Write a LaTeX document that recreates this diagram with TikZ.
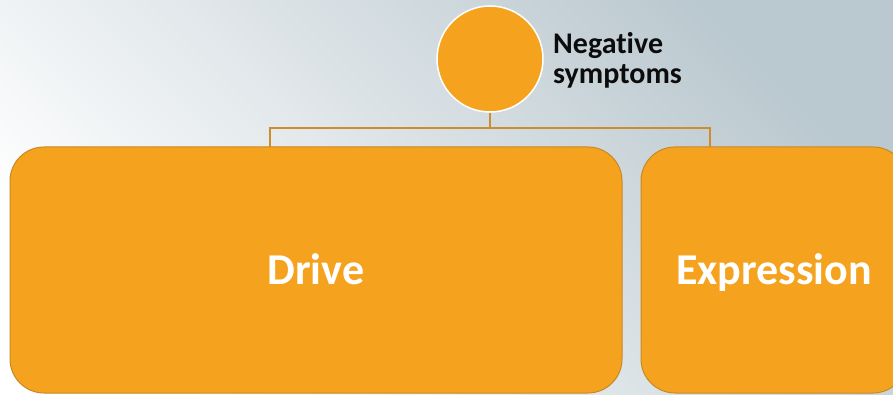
\documentclass[tikz,border=0pt]{standalone}
\usepackage{fontspec}
\setmainfont{Carlito}[RawFeature={-liga;-clig;-calt}]
\usetikzlibrary{positioning}
\definecolor{boxorange}{RGB}{245,163,30}
\definecolor{boxedge}{RGB}{200,137,35}
\definecolor{linkbrown}{RGB}{205,140,45}
\definecolor{bgdark}{RGB}{186,200,207}
\definecolor{txtdark}{RGB}{12,12,12}
\tikzset{
    hub/.style={
        circle,
        draw=white,
        line width=1.5pt,
        fill=boxorange,
        minimum size=106pt,
        inner sep=0pt
    },
    card/.style={
        rectangle,
        draw=boxedge,
        line width=1pt,
        fill=boxorange,
        rounded corners=34pt,
        minimum height=246pt,
        inner sep=0pt,
        text=white,
        text height=28pt,
        text depth=0pt,
        font=\bfseries\fontsize{44}{44}\selectfont
    },
    caption/.style={
        align=left,
        inner sep=0pt,
        text=txtdark,
        font=\bfseries\fontsize{30}{30}\selectfont
    },
    link/.style={draw=linkbrown,line width=1.6pt}
}

\begin{document}
\begin{tikzpicture}[x=1pt,y=-1pt]
\clip (0,0) rectangle (893,395);
\shade[top color=bgdark,bottom color=white,shading angle=-45] (0,0) rectangle (893,395);

\node[hub] (neg) at (490,59) {};
\node[caption,anchor=north west] (negtxt) at (553,32) {Negative\\symptoms};

\node[card,minimum width=612pt] (drive) at (316,270) {Drive};
\node[card,minimum width=266pt] (expr) at (774,270) {Expression};

% tree connector
\coordinate (jn) at (490,128);
\coordinate (dtop) at (270,147);
\coordinate (etop) at (710,147);
\draw[link] (neg.south) -- (jn);
\draw[link] (dtop) |- (jn) -| (etop);
\end{tikzpicture}
\end{document}
